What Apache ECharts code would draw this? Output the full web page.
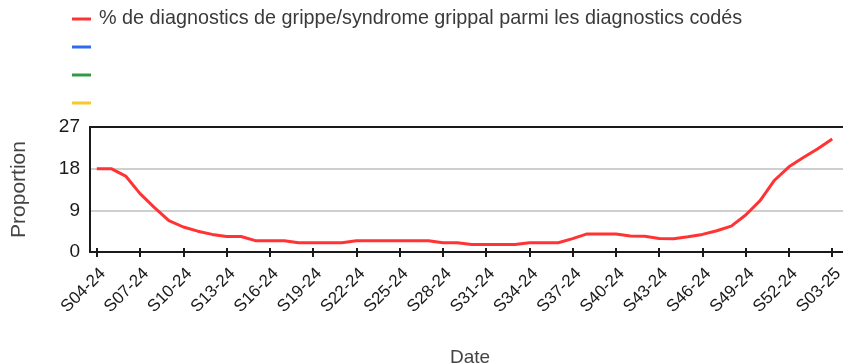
<!DOCTYPE html>
<html>
<head>
<meta charset="utf-8">
<script src="https://cdn.jsdelivr.net/npm/echarts@6/dist/echarts.min.js"></script>
<style>
  html, body { margin: 0; padding: 0; background: #fff; }
  #chart { width: 843px; height: 363px; }
</style>
</head>
<body>
<div id="chart"></div>
<script>
// Weekly share of influenza / flu-like illness among coded diagnoses (%)
const weeks = [
  'S04-24','S05-24','S06-24','S07-24','S08-24','S09-24','S10-24','S11-24','S12-24','S13-24',
  'S14-24','S15-24','S16-24','S17-24','S18-24','S19-24','S20-24','S21-24','S22-24','S23-24',
  'S24-24','S25-24','S26-24','S27-24','S28-24','S29-24','S30-24','S31-24','S32-24','S33-24',
  'S34-24','S35-24','S36-24','S37-24','S38-24','S39-24','S40-24','S41-24','S42-24','S43-24',
  'S44-24','S45-24','S46-24','S47-24','S48-24','S49-24','S50-24','S51-24','S52-24','S01-25',
  'S02-25','S03-25'
];
const grippeShare = [
  18.0, 18.0, 16.4, 12.6, 9.6, 6.8, 5.4, 4.5, 3.8, 3.35,
  3.35, 2.45, 2.45, 2.45, 2.0, 2.0, 2.0, 2.0, 2.45, 2.45,
  2.45, 2.45, 2.45, 2.45, 2.0, 2.0, 1.6, 1.6, 1.6, 1.6,
  2.0, 2.0, 2.0, 2.9, 3.9, 3.9, 3.9, 3.45, 3.4, 2.9,
  2.85, 3.3, 3.8, 4.6, 5.6, 8.0, 11.1, 15.5, 18.4, 20.4,
  22.3, 24.4
];
const legendNames = [
  '% de diagnostics de grippe/syndrome grippal parmi les diagnostics codés',
  ' ', '  ', '   '
];
const legendColors = ['#ff3333', '#2f6bf0', '#2f9a48', '#fcc62d'];
const yTicks = { min: 0, max: 27, interval: 9 };

const FONT = '"Liberation Sans", Arial, sans-serif';

const chart = echarts.init(document.getElementById('chart'), null, { renderer: 'canvas' });

const frameTop = 127, frameHeight = 125;

chart.setOption({
  animation: false,
  backgroundColor: '#ffffff',
  textStyle: { fontFamily: FONT },
  legend: {
    orient: 'vertical',
    left: 67,
    top: 3,
    itemWidth: 19,
    itemHeight: 3,
    itemGap: 6,
    icon: 'rect',
    selectedMode: false,
    data: legendNames,
    textStyle: { fontFamily: FONT, fontSize: 19.8, lineHeight: 22, color: '#3a3a3a', padding: [0, 0, 0, 3] }
  },
  grid: [
    // frame: axes, gridlines, titles
    { left: 90, top: frameTop, width: 760, height: frameHeight, outerBoundsMode: 'none', containLabel: false },
    // data area
    { left: 96.8, right: 10.8, top: frameTop, height: frameHeight, outerBoundsMode: 'none', containLabel: false }
  ],
  xAxis: [
    {
      gridIndex: 0, type: 'value', min: 0, max: 1, position: 'bottom',
      name: 'Date', nameLocation: 'middle', nameGap: 96,
      nameTextStyle: { fontFamily: FONT, fontSize: 19, color: '#444' },
      axisLine: { show: true, lineStyle: { color: '#1a1a1a', width: 2 } },
      axisTick: { show: false }, axisLabel: { show: false }, splitLine: { show: false }
    },
    {
      gridIndex: 0, type: 'value', min: 0, max: 1, position: 'top',
      axisLine: { show: true, lineStyle: { color: '#1a1a1a', width: 2 } },
      axisTick: { show: false }, axisLabel: { show: false }, splitLine: { show: false }
    },
    {
      gridIndex: 1, type: 'category', data: weeks, boundaryGap: false,
      position: 'bottom', offset: -4,
      axisLine: { show: false },
      axisTick: { show: true, interval: 2, length: 9, lineStyle: { color: '#1a1a1a', width: 2 } },
      axisLabel: {
        interval: 2, rotate: 45, margin: 17, verticalAlign: 'top',
        fontFamily: FONT, fontSize: 17, color: '#1a1a1a'
      },
      splitLine: { show: false }
    }
  ],
  yAxis: [
    {
      gridIndex: 0, type: 'value', min: yTicks.min, max: yTicks.max, interval: yTicks.interval,
      name: 'Proportion', nameLocation: 'middle', nameGap: 60,
      nameTextStyle: { fontFamily: FONT, fontSize: 21, color: '#444' },
      axisLine: { show: true, lineStyle: { color: '#1a1a1a', width: 2 } },
      axisTick: { show: false },
      axisLabel: { margin: 10, fontFamily: FONT, fontSize: 19, color: '#1a1a1a' },
      splitLine: { show: true, lineStyle: { color: '#cfcfcf', width: 2 } }
    },
    {
      gridIndex: 1, type: 'value', min: yTicks.min, max: yTicks.max, interval: yTicks.interval,
      show: false, splitLine: { show: false }
    }
  ],
  series: [
    {
      name: legendNames[0], type: 'line', xAxisIndex: 2, yAxisIndex: 1,
      data: grippeShare, showSymbol: false, symbol: 'none',
      color: legendColors[0],
      lineStyle: { color: legendColors[0], width: 3 }
    },
    { name: legendNames[1], type: 'line', xAxisIndex: 2, yAxisIndex: 1, data: [], color: legendColors[1], symbol: 'none' },
    { name: legendNames[2], type: 'line', xAxisIndex: 2, yAxisIndex: 1, data: [], color: legendColors[2], symbol: 'none' },
    { name: legendNames[3], type: 'line', xAxisIndex: 2, yAxisIndex: 1, data: [], color: legendColors[3], symbol: 'none' }
  ]
});
</script>
</body>
</html>
